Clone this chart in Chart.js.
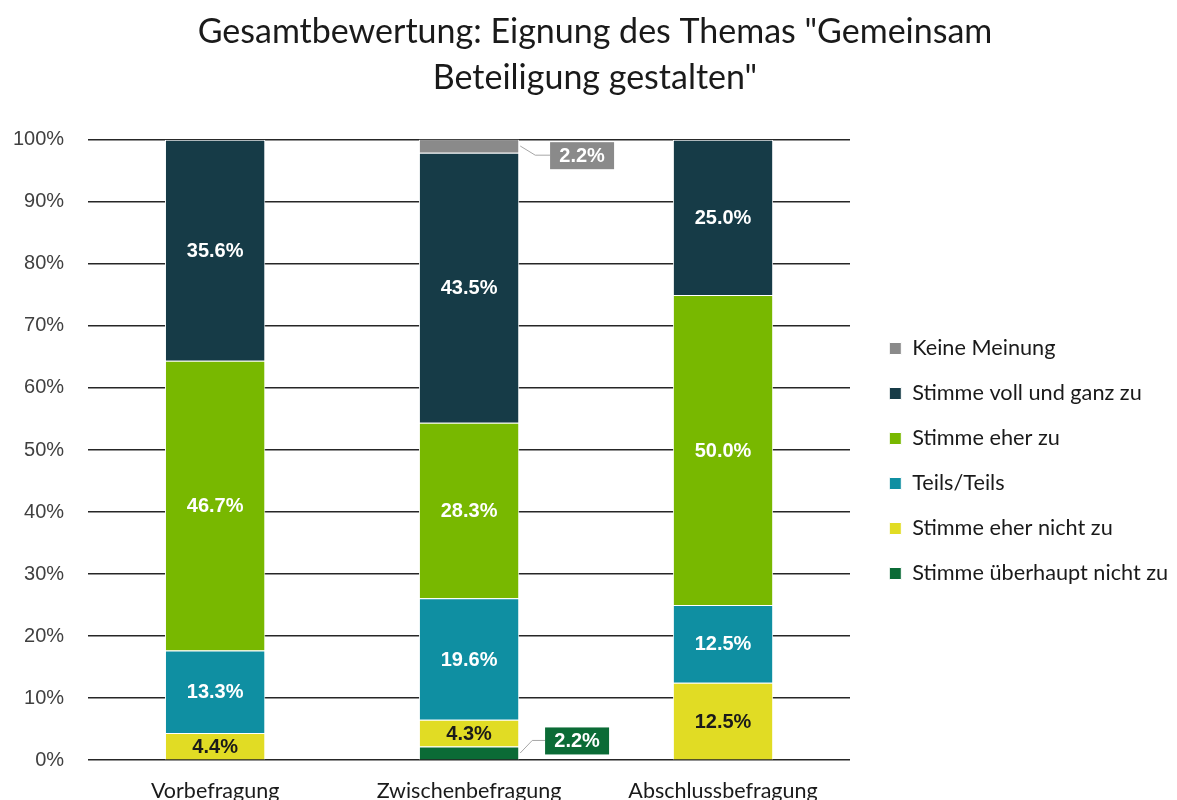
<!DOCTYPE html>
<html>
<head>
<meta charset="utf-8">
<script src="https://cdn.jsdelivr.net/npm/chart.js@4"></script>
<style>
  body { margin: 0; background: #fff; }
  #wrap { width: 1177px; height: 800px; overflow: hidden; }
</style>
</head>
<body>
<div id="wrap"><canvas id="surveyChart" width="1177" height="800"></canvas></div>
<script>
// categories and series (percent values)
const categories = ['Vorbefragung', 'Zwischenbefragung', 'Abschlussbefragung'];
const ueberhauptNicht = [0, 2.2, 0];
const eherNicht = [4.4, 4.3, 12.5];
const teilsTeils = [13.3, 19.6, 12.5];
const eherZu = [46.7, 28.3, 50.0];
const vollUndGanz = [35.6, 43.5, 25.0];
const keineMeinung = [0, 2.2, 0];
const yTicks = [0, 10, 20, 30, 40, 50, 60, 70, 80, 90, 100];

// draw value labels in the segments, small ones as callouts
const segLabels = {
    id: 'segLabels',
    afterDatasetsDraw(chart) {
        const ctx = chart.ctx;
        ctx.save();
        ctx.font = 'bold 20px "Liberation Sans", Arial, sans-serif';
        ctx.textAlign = 'center';
        ctx.textBaseline = 'middle';
        chart.data.datasets.forEach(function(ds, i) {
            const meta = chart.getDatasetMeta(i);
            meta.data.forEach(function(bar, j) {
                const v = ds.data[j];
                if (!v) return;
                const txt = v.toFixed(1) + '%';
                const cy = (bar.y + bar.base) / 2;
                if (v < 3) {
                    const right = bar.x + bar.width / 2;
                    let bx, by, lx;
                    if (i == chart.data.datasets.length - 1) {
                        bx = bar.x + 113; by = bar.y + 16;
                        lx = right + 16;
                    } else {
                        bx = bar.x + 108; by = bar.base - 19;
                        lx = right + 13;
                    }
                    ctx.strokeStyle = '#a6a6a6';
                    ctx.lineWidth = 1;
                    ctx.beginPath();
                    ctx.moveTo(right + 1, cy);
                    ctx.lineTo(lx, by);
                    ctx.lineTo(bx - 32, by);
                    ctx.stroke();
                    ctx.fillStyle = ds.backgroundColor;
                    ctx.fillRect(bx - 32, by - 13, 64, 27);
                    ctx.fillStyle = '#ffffff';
                    ctx.fillText(txt, bx, by + 1);
                } else {
                    ctx.fillStyle = ds.labelColor || '#ffffff';
                    ctx.fillText(txt, bar.x, cy + 1);
                }
            });
        });
        ctx.restore();
    }
};

// keep the legend box to the right of x=850 and move it (and the title) into place
const legendPlace = {
    id: 'legendPlace',
    beforeLayout(chart) {
        const lg = chart.legend;
        if (!lg || lg._wrapped) return;
        const fit = lg.fit;
        lg.fit = function() {
            fit.call(this);
            this.width = 1177 - 850;
        };
        lg._wrapped = true;
    },
    afterLayout(chart) {
        const lg = chart.legend;
        lg.left += 16;
        lg.right += 16;
        lg.top += 50;
        lg.bottom += 50;
        const tb = chart.titleBlock;
        tb.left += 12;
        tb.right += 12;
    }
};

const ctx = document.getElementById('surveyChart');
const myChart = new Chart(ctx, {
    type: 'bar',
    data: {
        labels: categories,
        datasets: [
            { label: 'Stimme überhaupt nicht zu', data: ueberhauptNicht, backgroundColor: '#0b6b36' },
            { label: 'Stimme eher nicht zu', data: eherNicht, backgroundColor: '#e1dc24', labelColor: '#1a1a1a' },
            { label: 'Teils/Teils', data: teilsTeils, backgroundColor: '#0f8fa2' },
            { label: 'Stimme eher zu', data: eherZu, backgroundColor: '#78b800' },
            { label: 'Stimme voll und ganz zu', data: vollUndGanz, backgroundColor: '#163b47' },
            { label: 'Keine Meinung', data: keineMeinung, backgroundColor: '#8a8a8a' }
        ].map(function(d) {
            d.borderColor = '#ffffff';
            d.borderWidth = 1;
            d.categoryPercentage = 1;
            d.barPercentage = 0.395;
            return d;
        })
    },
    options: {
        responsive: false,
        animation: false,
        layout: { padding: { left: -11, right: 0, top: 0, bottom: -22 } },
        scales: {
            x: {
                stacked: true,
                grid: { display: false, drawTicks: false },
                border: { display: false },
                ticks: { color: '#1a1a1a', font: { family: 'Lato, "Noto Sans", sans-serif', size: 21.5 }, padding: 18 }
            },
            y: {
                stacked: true,
                min: 0,
                max: 100,
                afterBuildTicks: function(axis) {
                    axis.ticks = yTicks.map(function(v) { return { value: v }; });
                },
                ticks: {
                    color: '#404040',
                    font: { family: '"Liberation Sans", Arial, sans-serif', size: 20 },
                    padding: 24,
                    callback: function(v) { return v + '%'; }
                },
                grid: { color: '#262626', lineWidth: 1.5, drawTicks: false },
                border: { display: false }
            }
        },
        plugins: {
            title: {
                display: true,
                text: ['Gesamtbewertung: Eignung des Themas "Gemeinsam', 'Beteiligung gestalten"'],
                color: '#1a1a1a',
                font: { family: 'Lato, "Noto Sans", sans-serif', size: 34, weight: 'normal', lineHeight: 1.35 },
                padding: { top: 9, bottom: 39 }
            },
            legend: {
                position: 'right',
                reverse: true,
                labels: {
                    color: '#1a1a1a',
                    font: { family: 'Lato, "Noto Sans", sans-serif', size: 21.7 },
                    boxWidth: 12,
                    boxHeight: 12,
                    padding: 23.3
                }
            },
            tooltip: { enabled: false }
        }
    },
    plugins: [segLabels, legendPlace]
});
</script>
</body>
</html>
